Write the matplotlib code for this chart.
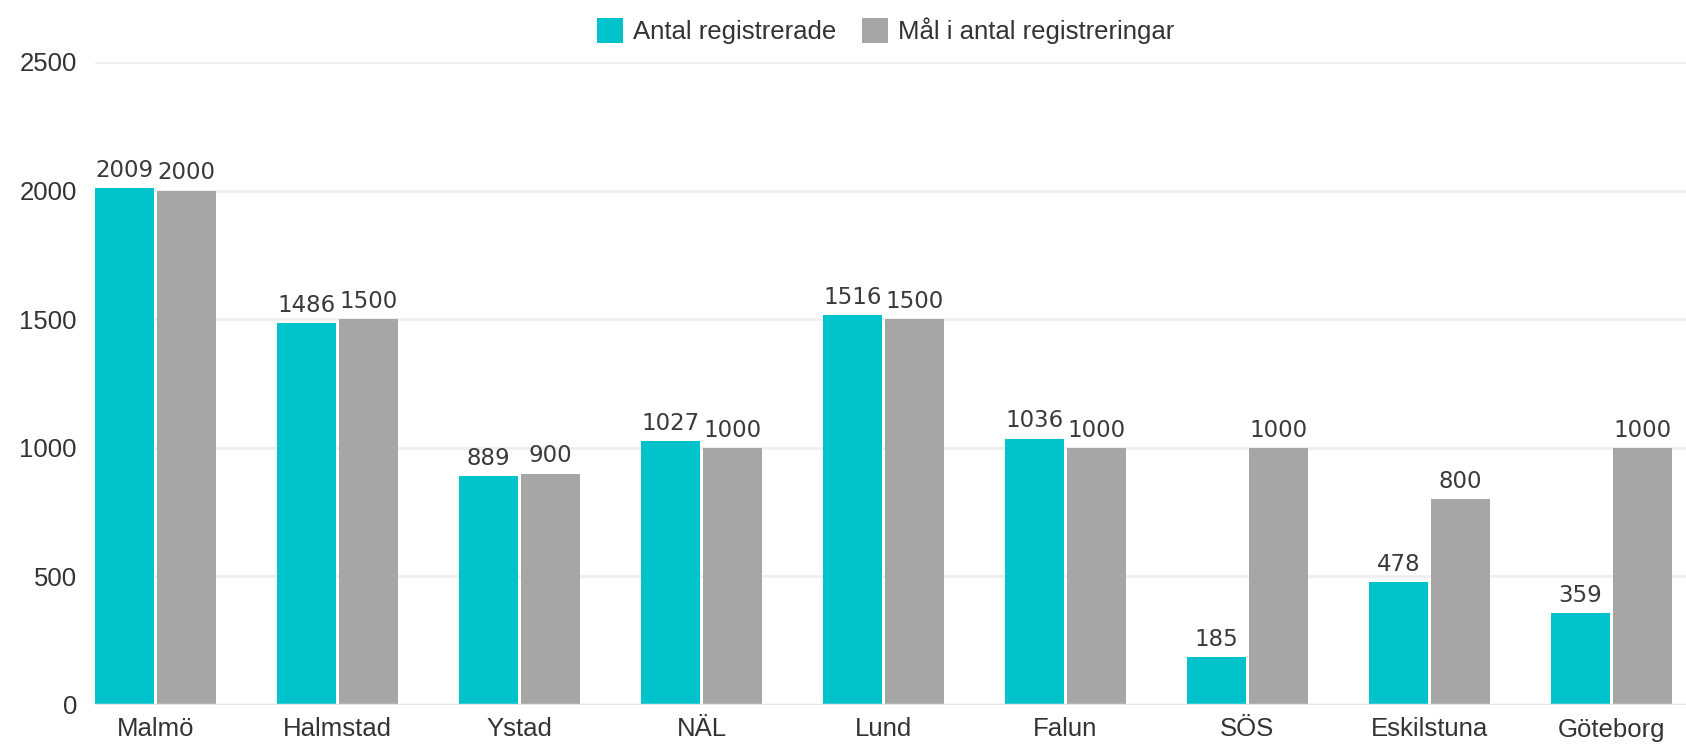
import matplotlib
matplotlib.use("Agg")
import matplotlib.pyplot as plt
import numpy as np
from matplotlib.patches import Patch

categories = ["Malmö", "Halmstad", "Ystad", "NÄL", "Lund", "Falun", "SÖS", "Eskilstuna", "Göteborg"]
registrerade = [2009, 1486, 889, 1027, 1516, 1036, 185, 478, 359]
mal = [2000, 1500, 900, 1000, 1500, 1000, 1000, 800, 1000]
yticks = [0, 500, 1000, 1500, 2000, 2500]
series_names = ["Antal registrerade", "Mål i antal registreringar"]

teal = "#00C3CB"
gray = "#A6A6A6"
text_col = "#333333"

W, H = 1686, 746
fig = plt.figure(figsize=(W / 100, H / 100), dpi=100)
ax = fig.add_axes([95 / W, (H - 705) / H, 1 - 95 / W, (705 - 62) / H])

x = np.arange(len(categories))
bw = 0.322
off = 0.17
b1 = ax.bar(x - off, registrerade, bw, color=teal, zorder=3)
b2 = ax.bar(x + off, mal, bw, color=gray, zorder=3)

label_font = dict(family="DejaVu Sans", fontsize=16.5, color="#3a3a3a")
for bars, vals in ((b1, registrerade), (b2, mal)):
    for rect, v in zip(bars, vals):
        ax.annotate(str(v), (rect.get_x() + rect.get_width() / 2, v),
                    xytext=(0, 8), textcoords="offset points",
                    ha="center", va="baseline", **label_font)

ax.set_xlim(-0.333, 8.41)
ax.set_ylim(0, 2500)
ax.set_yticks(yticks)
ax.set_yticklabels([str(t) for t in yticks])
ax.set_xticks(x)
ax.set_xticklabels(categories)
ax.grid(axis="y", color="#efefef", linewidth=2, zorder=0)
ax.axhline(0, color="#e3e3e3", linewidth=2.5, zorder=4)
for s in ax.spines.values():
    s.set_visible(False)
ax.tick_params(axis="both", length=0, labelsize=18.5, labelcolor=text_col)
ax.tick_params(axis="y", pad=13)
ax.tick_params(axis="x", pad=9)
for lab in ax.get_xticklabels() + ax.get_yticklabels():
    lab.set_family("Liberation Sans")

handles = [Patch(facecolor=teal, edgecolor="none"), Patch(facecolor=gray, edgecolor="none")]
fig.legend(handles, series_names, loc="center", bbox_to_anchor=(886 / W, 1 - 31 / H),
           ncol=2, frameon=False, prop={"family": "Liberation Sans", "size": 18.5},
           handlelength=1.0, handleheight=1.15, handletextpad=0.4, columnspacing=1.0,
           labelcolor=text_col)

fig.savefig("out.png", dpi=100, facecolor="white")
